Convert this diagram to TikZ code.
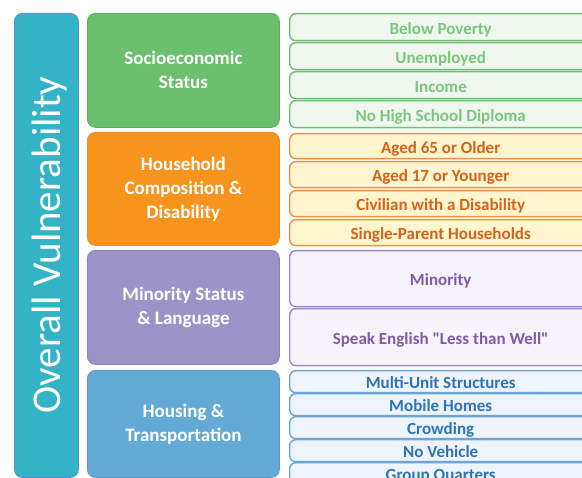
\documentclass[tikz,border=0pt]{standalone}
\usepackage{fontspec}
\setmainfont{Carlito}
\newfontfamily\carl{Carlito}
\definecolor{tealbar}{HTML}{33B3C5}
\definecolor{tealline}{HTML}{5A8FCF}
\definecolor{gbox}{HTML}{6CC06D}
\definecolor{gline}{HTML}{5AAE5F}
\definecolor{gsub}{HTML}{EFF7EE}
\definecolor{gsubline}{HTML}{72BC74}
\definecolor{gtext}{HTML}{7BC67D}
\definecolor{obox}{HTML}{F7941D}
\definecolor{oline}{HTML}{E98A2E}
\definecolor{osub}{HTML}{FFF5CE}
\definecolor{osubline}{HTML}{EE8F45}
\definecolor{otext}{HTML}{D5621C}
\definecolor{pbox}{HTML}{9C94C9}
\definecolor{pline}{HTML}{8F80BF}
\definecolor{psub}{HTML}{F6F4FA}
\definecolor{psubline}{HTML}{9D86C8}
\definecolor{ptext}{HTML}{7E5BA8}
\definecolor{bbox}{HTML}{63AAD6}
\definecolor{bline}{HTML}{5C9BD0}
\definecolor{bsub}{HTML}{EEF4FB}
\definecolor{bsubline}{HTML}{6BA5D8}
\definecolor{btext}{HTML}{2E74B5}
\begin{document}
\begin{tikzpicture}[x=1pt,y=-1pt,
  cat/.style={draw, rounded corners=8pt, anchor=north west, minimum width=192pt,
    text=white, align=center, font=\carl\bfseries\fontsize{19}{24}\selectfont,
    line width=0.8pt, inner sep=0pt},
  sub/.style={draw, rounded corners=6pt, anchor=north west, minimum width=302pt,
    line width=1.4pt, font=\carl\bfseries\fontsize{17}{20}\selectfont, inner sep=0pt,
    text height=14pt, text depth=0pt},
  gs/.style={sub, fill=gsub, draw=gsubline, text=gtext},
  os/.style={sub, fill=osub, draw=osubline, text=otext},
  ps/.style={sub, fill=psub, draw=psubline, text=ptext},
  bs/.style={sub, fill=bsub, draw=bsubline, text=btext},
]
\clip (0,0) rectangle (582,478);
\fill[white] (0,0) rectangle (582,478);
% left bar
\node[draw=tealline, fill=tealbar, rounded corners=8pt, anchor=north west,
  minimum width=64pt, minimum height=464pt, line width=0.8pt, inner sep=0pt] (bar) at (14,13) {};
\node[rotate=90, text=white, font=\carl\fontsize{41}{41}\selectfont, inner sep=0pt,
  text height=26.4pt, text depth=0pt] (title) at (47,245) {Overall Vulnerability};
% categories
\node[cat, fill=gbox, draw=gline, minimum height=114pt] (ses) at (87,13) {Socioeconomic\\Status};
\node[cat, fill=obox, draw=oline, minimum height=113pt] (hcd) at (87,132) {Household\\Composition \&\\Disability};
\node[cat, fill=pbox, draw=pline, minimum height=114pt] (msl) at (87,250) {Minority Status\\\& Language};
\node[cat, fill=bbox, draw=bline, minimum height=107pt] (ht) at (87,370) {Housing \&\\Transportation};
% green subs
\node[gs, minimum height=27pt] (g1) at (289,13) {Below Poverty};
\node[gs, minimum height=27pt] (g2) at (289,42) {Unemployed};
\node[gs, minimum height=27pt] (g3) at (289,71) {Income};
\node[gs, minimum height=27pt] (g4) at (289,100) {No High School Diploma};
% orange subs
\node[os, minimum height=25pt] (o1) at (289,133) {Aged 65 or Older};
\node[os, minimum height=26pt] (o2) at (289,161) {Aged 17 or Younger};
\node[os, minimum height=26pt] (o3) at (289,190) {Civilian with a Disability};
\node[os, minimum height=26pt] (o4) at (289,219) {Single-Parent Households};
% purple subs
\node[ps, minimum height=56pt] (p1) at (289,250) {Minority};
\node[ps, minimum height=57pt] (p2) at (289,308) {Speak English "Less than Well"};
% blue subs
\node[bs, minimum height=22pt] (b1) at (289,370) {Multi-Unit Structures};
\node[bs, minimum height=22pt] (b2) at (289,393) {Mobile Homes};
\node[bs, minimum height=22pt] (b3) at (289,416) {Crowding};
\node[bs, minimum height=22pt] (b4) at (289,439) {No Vehicle};
\node[bs, minimum height=22pt] (b5) at (289,462) {Group Quarters};
\end{tikzpicture}
\end{document}
